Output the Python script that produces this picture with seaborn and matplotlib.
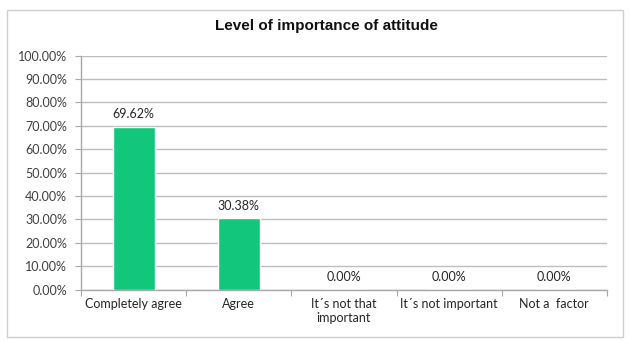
import matplotlib
matplotlib.use("Agg")
import matplotlib.pyplot as plt
import seaborn as sns
import pandas as pd
from matplotlib.patches import Rectangle
from matplotlib.ticker import FixedLocator, PercentFormatter

categories = ["Completely agree", "Agree", "It´s not that\nimportant", "It´s not important", "Not a  factor"]
values = [69.62, 30.38, 0.0, 0.0, 0.0]
value_labels = ["69.62%", "30.38%", "0.00%", "0.00%", "0.00%"]
title = "Level of importance of attitude"

sns.set_theme(style="white")
plt.rcParams['font.family'] = ['Lato', 'DejaVu Sans']

df = pd.DataFrame({"cat": categories, "val": values})

fig = plt.figure(figsize=(6.29, 3.41), dpi=100)
fig.patches.append(Rectangle((0.011, 0.012), 0.979, 0.960, transform=fig.transFigure,
                             fill=False, edgecolor="#CFCFCF", linewidth=1.0))
ax = fig.add_axes([0.1288, 0.151, 0.836, 0.686])

sns.barplot(data=df, x="cat", y="val", color="#12C67C", width=0.4, saturation=1,
            ax=ax, zorder=3)

ax.set_ylim(0, 100)
ax.set_xlim(-0.5, 4.5)
ax.yaxis.set_major_locator(FixedLocator([i * 10 for i in range(11)]))
ax.yaxis.set_major_formatter(PercentFormatter(decimals=2))
ax.grid(axis="y", color="#BDBDBD", linewidth=1.0, zorder=0)
ax.set_axisbelow(True)
for s in ["top", "right"]:
    ax.spines[s].set_visible(False)
for s in ["left", "bottom"]:
    ax.spines[s].set_color("#A8A8A8")
    ax.spines[s].set_linewidth(1.0)

ax.set_xlabel("")
ax.set_ylabel("")
ax.tick_params(axis="y", labelsize=9, labelcolor="#404040", length=4, width=0.8,
               direction="out", left=True, pad=6, color="#A8A8A8")
ax.tick_params(axis="x", labelsize=9, labelcolor="#262626", length=0, pad=6)
ax.set_xticks(range(len(categories)))
ax.set_xticklabels(categories)
ax.set_xticks([i + 0.5 for i in range(-1, len(categories))], minor=True)
ax.tick_params(axis="x", which="minor", length=4, width=0.8, color="#A8A8A8", bottom=True)

for i, (v, lab) in enumerate(zip(values, value_labels)):
    ax.text(i, v + 2.8, lab, ha="center", va="bottom", fontsize=9, color="#262626")

fig.text(0.519, 0.925, title, ha="center", va="center", fontsize=11,
         fontweight="bold", family=["Liberation Sans", "DejaVu Sans"], color="#111111")

fig.savefig("out.png", dpi=100)
